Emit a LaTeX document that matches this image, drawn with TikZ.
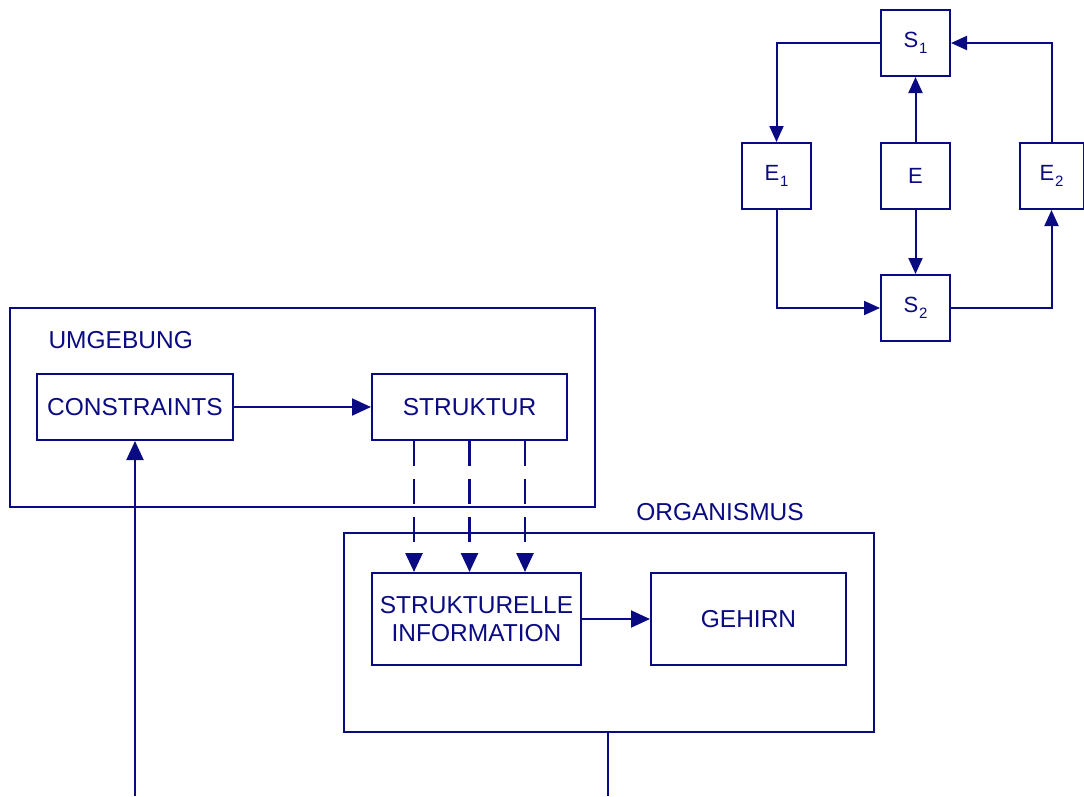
\documentclass[tikz,border=0pt]{standalone}
\usepackage{fontspec}
\setmainfont{Liberation Sans}
\usetikzlibrary{arrows.meta,positioning,calc}
\definecolor{ink}{RGB}{10,10,130}
\newcommand{\subidx}[1]{\kern1pt\raisebox{-0.55ex}{\fontsize{15}{15}\selectfont #1}}
\begin{document}
\begin{tikzpicture}[x=1pt,y=-1pt,
  every node/.style={text=ink, font=\fontsize{24.5}{28}\selectfont},
  box/.style={draw=ink, line width=2pt, inner sep=0pt, align=center},
  frame/.style={draw=ink, line width=2pt, inner sep=0pt},
  smallbox/.style={box, minimum width=69pt, minimum height=66pt, font=\fontsize{22}{26}\selectfont},
  conn/.style={draw=ink, line width=2pt, -{Triangle[length=19pt,width=17pt]}},
  conns/.style={draw=ink, line width=2pt, -{Triangle[length=16pt,width=14pt]}},
  dashconn/.style={conn, line width=2.6pt, dash pattern=on 25pt off 13pt},
  plain/.style={draw=ink, line width=2pt}]
\useasboundingbox (0,0) rectangle (1084,796);

% environment frame and its contents
\node[frame, minimum width=585pt, minimum height=199pt] (umg) at (302.5,407.5) {};
\node[anchor=west] (umglabel) at (45,340) {UMGEBUNG};
\node[box, minimum width=196pt, minimum height=66pt] (constraints) at (135,407) {CONSTRAINTS};
\node[box, minimum width=195pt, minimum height=66pt] (struktur) at (469.5,407) {STRUKTUR};

% organism frame and its contents
\node[frame, minimum width=530pt, minimum height=199pt] (org) at (609,632.5) {};
\node (orglabel) at (720,512) {ORGANISMUS};
\node[box, minimum width=209pt, minimum height=92pt] (info) at (476.5,619) {STRUKTURELLE\\INFORMATION};
\node[box, minimum width=195pt, minimum height=92pt] (gehirn) at (748.5,619) {GEHIRN};

% loose ends at the lower border
\coordinate (inlet) at (135,796);
\coordinate (outlet) at (608,796);

% connectors of the main diagram
\draw[conn] (constraints.east) -- (struktur.west);
\draw[conn] (info.east) -- (gehirn.west);
\draw[conn] (inlet) -- (constraints.south);
\draw[plain] (org.south -| outlet) -- (outlet);
\foreach \dx in {-55.5,0,55.5}{
  \draw[dashconn] ($(struktur.south)+(\dx,0)$) -- ($(struktur.south |- info.north)+(\dx,0)$);
}

% state/event cycle
\node[smallbox] (s1) at (915.5,43) {S\subidx{1}};
\node[smallbox] (e1) at (776.5,176) {E\subidx{1}};
\node[smallbox] (e)  at (915.5,176) {E};
\node[smallbox, minimum width=64pt] (e2) at (1051.5,176) {E\subidx{2}};
\node[smallbox] (s2) at (915.5,308) {S\subidx{2}};

\draw[conns] (s1.west) -| (e1.north);
\draw[conns] (e1.south) |- (s2.west);
\draw[conns] (s2.east) -| (e2.south);
\draw[conns] (e2.north) |- (s1.east);
\draw[conns] (e.north) -- (s1.south);
\draw[conns] (e.south) -- (s2.north);
\end{tikzpicture}
\end{document}
